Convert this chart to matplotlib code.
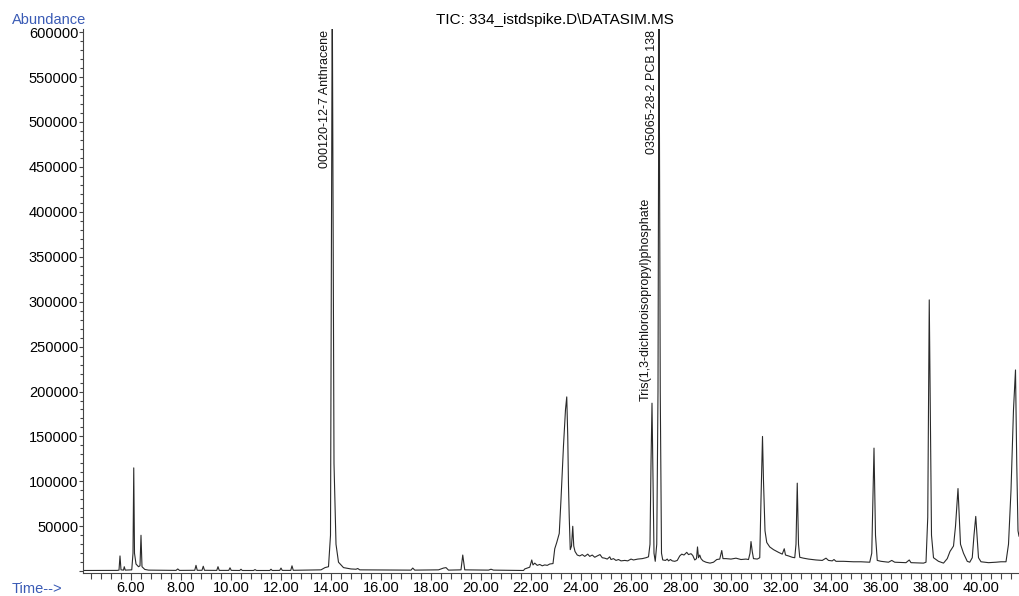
import matplotlib.pyplot as plt
from matplotlib.ticker import MultipleLocator, FuncFormatter

plt.rcParams['font.family'] = ['Liberation Sans', 'DejaVu Sans']

# retention time (min) and abundance
times = [
    4.08, 5.45, 5.52, 5.56, 5.60, 5.70, 5.73, 5.77, 6.03, 6.08, 6.11, 6.14, 6.20, 6.30, 6.36, 6.40, 6.44, 6.55, 6.70,
    7.80, 7.87, 7.94, 8.55, 8.60, 8.65, 8.84, 8.89, 8.94, 9.43, 9.48, 9.53, 9.91, 9.96, 10.01, 10.35, 10.40, 10.45,
    10.90, 10.96, 11.02, 11.55, 11.60, 11.65, 11.95, 12.00, 12.05, 12.39, 12.44, 12.49,
    13.60, 13.76, 13.90, 13.98, 14.05, 14.12, 14.20, 14.30, 14.50, 14.80, 15.00, 15.07, 15.15,
    17.20, 17.27, 17.35, 18.30, 18.50, 18.60, 18.70, 19.20, 19.27, 19.35, 20.30, 20.40, 20.50,
    21.70, 21.75, 21.85, 21.95, 22.03, 22.08, 22.15, 22.25, 22.35, 22.45, 22.55, 22.65, 22.75, 22.88,
    22.95, 23.03, 23.13, 23.20, 23.30, 23.38, 23.43, 23.47, 23.50, 23.53, 23.57, 23.62, 23.67, 23.71, 23.76,
    23.85, 23.95, 24.05, 24.15, 24.27, 24.35, 24.45, 24.55, 24.65, 24.76, 24.85, 24.95, 25.05, 25.15, 25.20,
    25.30, 25.40, 25.50, 25.60, 25.75, 25.87, 26.00, 26.10, 26.27, 26.45, 26.60, 26.70,
    26.76, 26.80, 26.84, 26.88, 26.92, 26.97, 27.03, 27.08, 27.12, 27.17, 27.22, 27.27,
    27.38, 27.45, 27.50, 27.58, 27.65, 27.75, 27.85, 27.95, 28.03, 28.12, 28.23, 28.30, 28.40, 28.47,
    28.55, 28.62, 28.66, 28.70, 28.75, 28.80, 28.88, 29.00, 29.16, 29.30, 29.43, 29.55, 29.63, 29.68,
    29.80, 30.00, 30.20, 30.40, 30.60, 30.70, 30.76, 30.80, 30.85, 30.90, 31.05, 31.15,
    31.20, 31.26, 31.30, 31.36, 31.43, 31.55, 31.70, 31.90, 32.05, 32.13, 32.18, 32.30, 32.45, 32.55,
    32.60, 32.65, 32.70, 32.75, 32.90, 33.10, 33.40, 33.65, 33.80, 33.90, 34.05, 34.12, 34.20, 34.50,
    34.90, 35.20, 35.55, 35.63, 35.72, 35.78, 35.85, 36.00, 36.30, 36.43, 36.55, 37.00, 37.13, 37.20,
    37.70, 37.80, 37.87, 37.93, 37.98, 38.02, 38.10, 38.30, 38.50, 38.65, 38.76, 38.90, 38.98, 39.08,
    39.13, 39.18, 39.30, 39.45, 39.55, 39.65, 39.72, 39.79, 39.84, 39.90, 40.00, 40.30, 40.60, 40.80,
    41.00, 41.10, 41.20, 41.30, 41.38, 41.43, 41.48, 41.52,
]
abundance = [
    800, 900, 1200, 17000, 1500, 1200, 5000, 1200, 1500, 20000, 115000, 20000, 8000, 5000, 6000, 40000, 5000, 2000, 1200,
    900, 2500, 900, 1000, 6500, 1000, 1000, 5500, 1000, 900, 5000, 900, 900, 3800, 900, 800, 2200, 800,
    800, 1800, 800, 800, 2200, 800, 900, 3500, 900, 900, 6000, 1000,
    1500, 4000, 5000, 40000, 650000, 120000, 30000, 10000, 4000, 2500, 2200, 3000, 1500,
    1200, 3500, 1200, 1500, 3500, 4000, 1200, 1500, 18000, 1500, 1200, 2200, 1200,
    800, 2500, 3500, 4500, 12500, 7000, 9000, 6500, 7500, 6000, 7000, 6500, 8000, 8500,
    25000, 32000, 42000, 80000, 140000, 180000, 194000, 150000, 95000, 60000, 24000, 28000, 50000, 28000, 22000,
    18000, 17000, 18500, 16500, 19000, 16500, 18000, 15500, 17000, 18500, 15000, 14500, 13500, 16000, 13000,
    14000, 12000, 13000, 11500, 12000, 11500, 13500, 12500, 13500, 14000, 15000, 16000,
    30000, 120000, 187000, 100000, 20000, 11000, 30000, 200000, 650000, 200000, 20000, 12500,
    12000, 13500, 11500, 13000, 11500, 11000, 12000, 17000, 19000, 18000, 21000, 18500, 19500, 17500,
    12500, 14000, 27000, 15000, 18000, 14000, 11500, 10000, 9000, 10000, 13000, 13500, 23000, 14000,
    14000, 13500, 14500, 13000, 13500, 13000, 20000, 33000, 22000, 14000, 13500, 15000,
    80000, 150000, 100000, 45000, 32000, 27000, 24000, 21000, 19000, 25000, 18000, 17000, 15500, 15000,
    30000, 98000, 30000, 15500, 14500, 13500, 12500, 12000, 14500, 12000, 11500, 13000, 11000, 11000,
    10500, 10500, 10000, 20000, 137000, 40000, 12000, 11000, 10000, 12000, 10000, 9500, 12500, 9500,
    9000, 10000, 60000, 302000, 150000, 40000, 15000, 11000, 9000, 14000, 22000, 28000, 50000, 92000,
    60000, 30000, 20000, 11000, 10000, 15000, 40000, 61000, 40000, 15000, 10500, 9500, 10000, 10500,
    10500, 30000, 90000, 180000, 224000, 120000, 45000, 39000,
]

# peak labels: retention time, label, abundance where the label starts (None = hang from top)
label_times = [14.05, 26.84, 27.12]
label_texts = ['000120-12-7 Anthracene', 'Tris(1,3-dichloroisopropyl)phosphate', '035065-28-2 PCB 138']
label_heights = [None, 190000, None]

fig = plt.figure(figsize=(10.19, 5.96), dpi=100)
ax = fig.add_axes([83 / 1019, 23 / 596, 1 - 83 / 1019, 544 / 596])

ax.plot(times, abundance, color='#2a2a2a', lw=0.8)

ax.set_xlim(4.08, 41.52)
ax.set_ylim(-2000, 603500)

for t, txt, h in zip(label_times, label_texts, label_heights):
    if h is None:
        ax.text(t - 0.03, 602000, txt, rotation=90, ha='right', va='top', fontsize=9, color='#111111')
    else:
        ax.text(t - 0.03, h, txt, rotation=90, ha='right', va='bottom', fontsize=9, color='#111111')

ax.xaxis.set_major_locator(MultipleLocator(2))
ax.xaxis.set_minor_locator(MultipleLocator(0.4))
ax.xaxis.set_major_formatter(FuncFormatter(lambda v, p: f'{v:.2f}' if v >= 5 else ''))
ax.yaxis.set_major_locator(MultipleLocator(50000))
ax.yaxis.set_minor_locator(MultipleLocator(10000))
ax.yaxis.set_major_formatter(FuncFormatter(lambda v, p: f'{int(v)}' if v > 0 else ''))

ax.tick_params(axis='x', which='major', length=5, width=0.8, labelsize=10.5, pad=1, color='#444444')
ax.tick_params(axis='x', which='minor', length=4, width=0.8, color='#444444')
ax.tick_params(axis='y', which='major', length=3, width=0.8, labelsize=10.5, pad=0.5, color='#444444')
ax.tick_params(axis='y', which='minor', length=2, width=0.8, color='#444444')

for side in ['top', 'right']:
    ax.spines[side].set_visible(False)
for side in ['left', 'bottom']:
    ax.spines[side].set_color('#444444')
    ax.spines[side].set_linewidth(0.8)

fig.text(555 / 1019, 1 - 20 / 596, 'TIC: 334_istdspike.D\\DATASIM.MS', ha='center', va='center', fontsize=11)
fig.text(12 / 1019, 1 - 20 / 596, 'Abundance', ha='left', va='center', fontsize=10.5, color='#3a5bb5')
fig.text(12 / 1019, 1 - 589 / 596, 'Time-->', ha='left', va='center', fontsize=10.5, color='#3a5bb5')

fig.savefig('out.png', dpi=100)
